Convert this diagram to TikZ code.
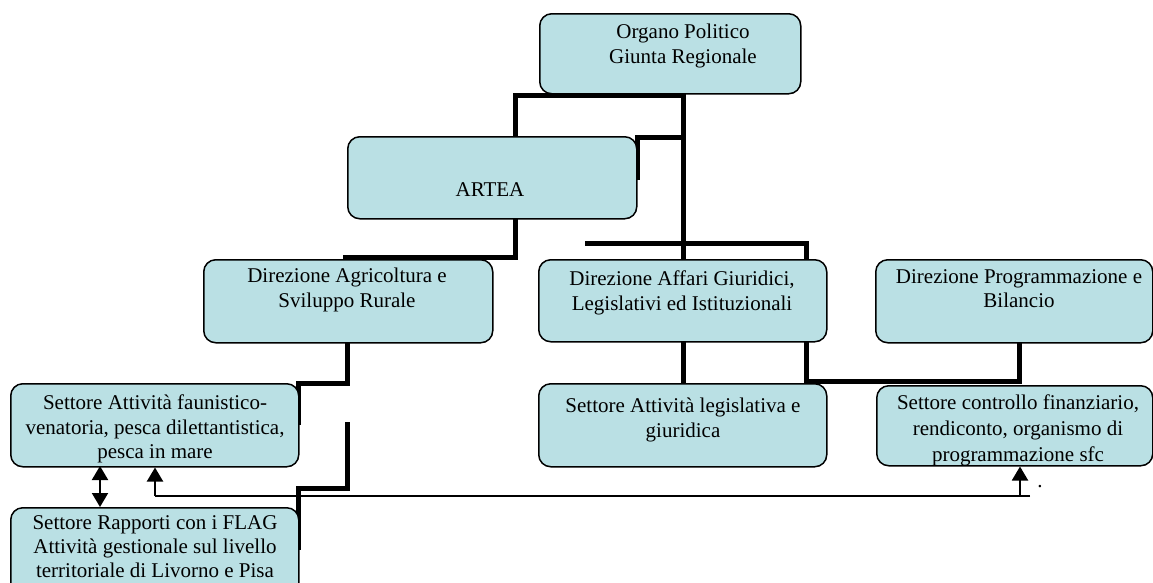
\documentclass[tikz,border=0pt]{standalone}
\usepackage{fontspec}
\setmainfont{Liberation Serif}
\usetikzlibrary{arrows.meta}
\definecolor{boxfill}{RGB}{186,224,228}
\begin{document}
\begin{tikzpicture}[x=1pt,y=-1pt,
  box/.style={draw=black, line width=1.5pt, fill=boxfill, rounded corners=12pt, anchor=north west, inner sep=0pt},
  lbl/.style={font=\fontsize{21}{24.5}\selectfont, align=center, inner sep=0pt, anchor=north},
  link/.style={line width=5pt},
  thinline/.style={line width=2pt},
  tipend/.style={-{Triangle[length=14pt,width=16pt]}},
  tipboth/.style={{Triangle[length=14pt,width=16pt]}-{Triangle[length=14pt,width=16pt]}}]
\useasboundingbox (0,0) rectangle (1153,582);

% connectors (thick)
\draw[link] (683,93) -- (683,259);
\draw[link] (683,95) -- (515,95) -- (515,136);
\draw[link] (637,180) -- (637,137) -- (683,137);
\draw[link] (515,218) -- (515,257) -- (345,257) -- (345,259);
\draw[link] (585,243) -- (806,243) -- (806,259);
\draw[link] (683,341) -- (683,383);
\draw[link] (806,341) -- (806,381) -- (1019,381) -- (1019,342);
\draw[link] (347,342) -- (347,383) -- (298,383) -- (298,425);
\draw[link] (347,422) -- (347,488) -- (298,488) -- (298,550);

% boxes
\node[box, minimum width=261pt, minimum height=80pt] (org) at (539,13) {};
\node[box, minimum width=289pt, minimum height=82pt] (artea) at (347,136) {};
\node[box, minimum width=289pt, minimum height=83pt] (agr) at (203,259) {};
\node[box, minimum width=288pt, minimum height=82pt] (aff) at (538,259) {};
\node[box, minimum width=277pt, minimum height=83pt] (prog) at (875,259) {};
\node[box, minimum width=288pt, minimum height=83pt] (faun) at (10,383) {};
\node[box, minimum width=288pt, minimum height=100pt] (flag) at (10,507) {};
\node[box, minimum width=288pt, minimum height=83pt] (legis) at (538,383) {};
\node[box, minimum width=276pt, minimum height=80pt] (ctrl) at (876,385) {};

% labels
\node[lbl] (orgT) at (683,24) {Organo Politico\\Giunta Regionale};
\node[lbl] (arteaT) at (490,182) {ARTEA};
\node[lbl] (agrT) at (347,268) {Direzione Agricoltura e\\Sviluppo Rurale};
\node[lbl] (affT) at (682,271) {Direzione Affari Giuridici,\\Legislativi ed Istituzionali};
\node[lbl] (progT) at (1019,269) {Direzione Programmazione e\\Bilancio};
\node[lbl] (faunT) at (155,395) {Settore Attività faunistico-\\venatoria, pesca dilettantistica,\\pesca in mare};
\node[lbl, font=\fontsize{21}{24}\selectfont] (flagT) at (155,515) {Settore Rapporti con i FLAG\\Attività gestionale sul livello\\territoriale di Livorno e Pisa};
\node[lbl] (legisT) at (683,398) {Settore Attività legislativa e\\giuridica};
\begin{scope}
  \clip (876,385) rectangle (1153,464);
  \node[lbl, font=\fontsize{21}{26}\selectfont] (ctrlT) at (1018,395) {Settore controllo finanziario,\\rendiconto, organismo di\\programmazione sfc};
\end{scope}

% thin connectors
\coordinate (jr) at (1030,496);
\coordinate (jl) at (155,496);
\coordinate (ja) at (1020,496);
\draw[thinline] (jr) -- (jl);
\draw[thinline, tipend] (jl) -- (jl |- faun.south);
\draw[thinline, tipend] (ja) -- (ja |- ctrl.south);
\draw[thinline, tipboth] (100,466) -- (100,507);
\node[font=\fontsize{21}{24.5}\selectfont, inner sep=0pt, anchor=base] (dot) at (1040,487) {.};
\end{tikzpicture}
\end{document}
